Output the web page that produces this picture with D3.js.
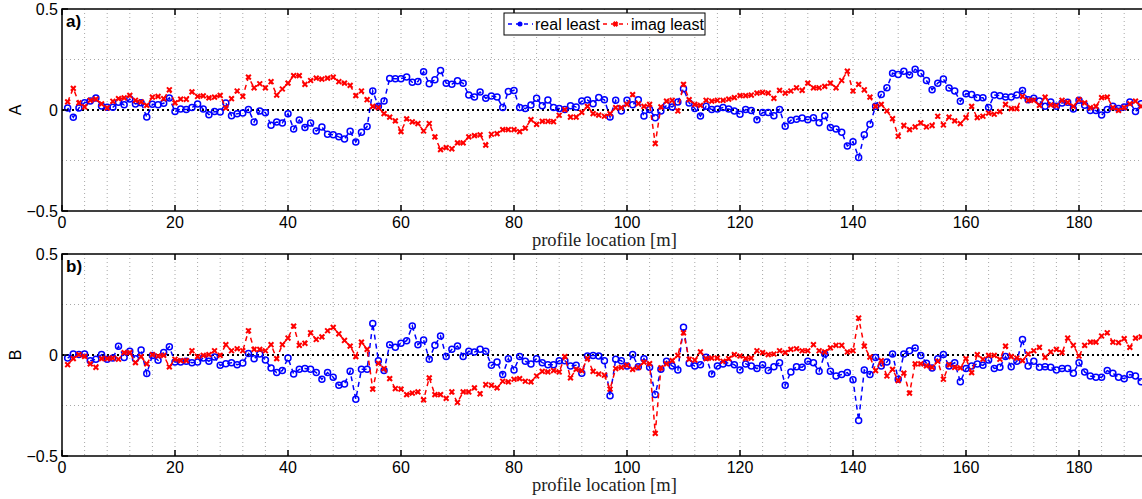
<!doctype html>
<html>
<head>
<style>
  body { margin: 0; overflow: hidden; background: #fff; }
  text { font-family: "Liberation Sans", Arial, sans-serif; }
</style>
</head>
<body>
<script src="https://cdn.jsdelivr.net/npm/d3@7"></script>
<script>
// sample positions along the profile [m]
const positions = d3.range(1, 192);

const realA = [
  0.01, -0.036, 0.01, 0.036, 0.044, 0.06, 0.02, 0.013, 0.013, 0.038,
  0.026, 0.054, 0.03, 0.036, -0.035, 0.028, 0.026, 0.033, 0.06, -0.008,
  0.005, 0.002, 0.012, 0.03, 0.005, -0.023, -0.008, -0.01, 0.035, -0.028,
  -0.018, -0.015, 0.003, -0.06, -0.005, -0.013, -0.075, -0.06, -0.064, -0.018,
  -0.094, -0.05, -0.087, -0.064, -0.104, -0.084, -0.12, -0.122, -0.133, -0.143,
  -0.105, -0.158, -0.11, -0.082, 0.094, 0.018, 0.044, 0.156, 0.155, 0.155,
  0.163, 0.137, 0.141, 0.189, 0.13, 0.15, 0.196, 0.133, 0.128, 0.145,
  0.132, 0.074, 0.064, 0.089, 0.058, 0.069, 0.064, 0.012, 0.092, 0.097,
  0.012, 0.007, 0.025, 0.058, 0.021, 0.049, 0.012, 0.007, 0.002, 0.021,
  0.015, 0.044, 0.049, 0.031, 0.062, 0.051, -0.035, 0.048, -0.005, 0.048,
  0.026, 0.051, -0.03, 0.002, -0.038, -0.005, 0.023, 0.015, 0.039, 0.105,
  0.035, 0.007, -0.03, 0.018, 0.002, 0.005, 0.012, 0.005, -0.005, -0.021,
  0.002, -0.002, -0.048, -0.012, -0.012, -0.028, 0.003, -0.081, -0.051, -0.046,
  -0.04, -0.048, -0.038, -0.063, -0.028, -0.087, -0.094, -0.11, -0.178, -0.157,
  -0.235, -0.123, -0.071, 0.018, 0.077, 0.11, 0.182, 0.176, 0.192, 0.173,
  0.202, 0.182, 0.146, 0.1, 0.133, 0.153, 0.109, 0.094, 0.043, 0.081,
  0.077, 0.061, 0.061, 0.012, 0.074, 0.071, 0.064, 0.064, 0.074, 0.097,
  0.051, 0.058, 0.044, 0.018, 0.039, 0.018, 0.035, 0.038, 0.005, 0.048,
  0.023, -0.002, -0.002, -0.025, 0.002, 0.018, 0.008, 0.015, 0.039, -0.008, 0.031
];

const imagA = [
  0.04, 0.107, 0.035, 0.015, 0.048, 0.054, 0.03, 0.01, 0.043, 0.056,
  0.06, 0.072, 0.048, 0.04, 0.023, 0.064, 0.067, 0.056, 0.1, 0.035,
  0.054, 0.053, 0.09, 0.067, 0.07, 0.06, 0.064, 0.072, 0.01, 0.056,
  0.094, 0.067, 0.163, 0.11, 0.13, 0.11, 0.14, 0.074, 0.104, 0.133,
  0.17, 0.17, 0.127, 0.146, 0.158, 0.153, 0.158, 0.163, 0.14, 0.133,
  0.122, 0.071, 0.094, 0.051, 0.018, 0.012, -0.018, -0.035, -0.054, -0.107,
  -0.044, -0.059, -0.067, -0.104, -0.067, -0.133, -0.196, -0.186, -0.192, -0.163,
  -0.163, -0.133, -0.127, -0.123, -0.174, -0.12, -0.117, -0.097, -0.097, -0.097,
  -0.107, -0.09, -0.048, -0.071, -0.056, -0.056, -0.058, -0.026, 0.002, -0.035,
  -0.035, -0.012, 0.018, -0.018, -0.025, -0.031, -0.018, 0.012, 0.012, 0.028,
  0.076, 0.031, 0.018, 0.028, -0.166, 0.015, 0.044, 0.048, -0.005, 0.127,
  0.051, 0.028, 0.023, 0.048, 0.044, 0.048, 0.048, 0.054, 0.061, 0.071,
  0.071, 0.074, 0.084, 0.087, 0.084, 0.058, 0.097, 0.084, 0.094, 0.11,
  0.097, 0.133, 0.11, 0.11, 0.117, 0.133, 0.11, 0.146, 0.192, 0.094,
  0.127, 0.1, 0.064, 0.018, 0.028, -0.005, -0.043, -0.13, -0.076, -0.097,
  -0.084, -0.064, -0.084, -0.077, -0.031, -0.074, -0.035, -0.054, -0.067, -0.038,
  0.018, -0.038, -0.031, -0.015, -0.021, -0.008, 0.028, 0.007, 0.007, 0.068,
  0.048, 0.048, 0.023, 0.064, 0.025, 0.021, 0.048, 0.038, 0.018, 0.051,
  0.035, 0.012, 0.018, 0.061, 0.064, 0.012, -0.002, 0.012, 0.031, 0.044, 0.018
];

const realB = [
  -0.015, 0.005, 0.003, 0.005, -0.028, -0.021, 0.002, -0.021, -0.015, 0.043,
  -0.012, 0.018, -0.018, 0.025, -0.092, -0.002, -0.026, 0.012, 0.041, -0.035,
  -0.035, -0.031, -0.038, -0.035, -0.015, -0.031, -0.01, -0.051, -0.043, -0.038,
  -0.048, -0.04, 0.008, -0.018, 0.005, -0.025, -0.064, -0.087, -0.077, -0.015,
  -0.094, -0.071, -0.067, -0.071, -0.087, -0.12, -0.087, -0.11, -0.15, -0.143,
  -0.081, -0.219, -0.071, -0.071, 0.156, -0.028, -0.077, 0.051, 0.038, 0.058,
  0.071, 0.143, 0.051, 0.074, -0.021, 0.048, 0.094, -0.008, 0.028, 0.044,
  -0.008, 0.018, 0.015, 0.028, 0.018, -0.051, -0.035, -0.097, -0.018, -0.074,
  -0.008, -0.031, -0.044, -0.018, -0.038, -0.048, -0.048, -0.028, -0.028, -0.054,
  -0.051, -0.09, -0.005, -0.002, -0.005, -0.028, -0.202, -0.021, -0.028, -0.054,
  0.002, -0.058, -0.018, -0.061, -0.196, -0.071, -0.031, -0.054, -0.074, 0.137,
  -0.041, -0.054, -0.048, -0.011, -0.094, -0.054, -0.044, -0.038, -0.048, -0.074,
  -0.044, -0.054, -0.067, -0.048, -0.077, -0.058, -0.038, -0.15, -0.084, -0.058,
  -0.061, -0.031, -0.038, -0.081, 0.005, -0.081, -0.104, -0.097, -0.087, -0.123,
  -0.324, -0.074, -0.097, -0.012, -0.054, -0.035, 0.005, -0.12, 0.005, 0.021,
  0.035, -0.002, -0.041, -0.064, -0.018, 0.002, -0.054, -0.038, -0.133, -0.067,
  -0.054, -0.044, -0.051, -0.025, -0.067, -0.061, -0.008, -0.058, -0.031, 0.077,
  -0.054, -0.031, -0.061, -0.058, -0.061, -0.074, -0.067, -0.067, -0.09, -0.038,
  -0.084, -0.104, -0.11, -0.11, -0.077, -0.09, -0.11, -0.117, -0.097, -0.104, -0.133
];

const imagB = [
  -0.048, -0.018, 0.002, -0.007, -0.044, -0.061, -0.018, -0.018, -0.015, -0.021,
  0.012, 0.012, -0.038, -0.008, -0.044, 0.002, -0.005, -0.002, -0.059, -0.021,
  -0.028, -0.028, 0.021, -0.008, -0.002, 0.002, 0.021, -0.002, 0.051, 0.021,
  0.031, 0.021, 0.12, 0.028, 0.028, 0.021, 0.051, -0.018, 0.051, 0.084,
  0.143, 0.048, 0.058, 0.11, 0.077, 0.09, 0.12, 0.137, 0.105, 0.072,
  0.044, -0.008, 0.064, 0.028, -0.169, -0.041, -0.067, -0.117, -0.166, -0.169,
  -0.196, -0.189, -0.183, -0.222, -0.113, -0.196, -0.196, -0.215, -0.183, -0.235,
  -0.183, -0.183, -0.163, -0.192, -0.146, -0.15, -0.163, -0.13, -0.133, -0.12,
  -0.117, -0.13, -0.133, -0.104, -0.081, -0.084, -0.077, -0.084, -0.008, -0.113,
  -0.071, -0.077, -0.018, -0.081, -0.094, -0.1, -0.169, -0.067, -0.061, -0.051,
  -0.071, -0.061, -0.035, -0.043, -0.388, -0.064, -0.044, -0.028, -0.002, 0.11,
  -0.021, -0.025, 0.015, -0.018, -0.015, -0.015, -0.031, -0.018, 0.002, -0.005,
  -0.018, -0.015, 0.021, 0.012, 0.002, 0.005, 0.021, 0.012, 0.028, 0.031,
  0.021, 0.021, 0.051, 0.021, 0.015, 0.035, 0.048, 0.048, 0.015, 0.021,
  0.183, 0.044, -0.01, -0.077, -0.028, -0.104, -0.071, -0.127, -0.09, -0.189,
  -0.044, -0.044, -0.054, -0.061, -0.031, -0.12, -0.048, -0.061, -0.064, -0.018,
  -0.087, 0.002, -0.021, -0.002, -0.002, -0.021, 0.044, -0.008, -0.015, -0.028,
  0.005, 0.021, 0.038, -0.012, 0.015, 0.028, 0.012, 0.084, 0.048, -0.005,
  0.048, 0.064, 0.064, 0.094, 0.11, 0.064, 0.061, 0.081, 0.038, 0.084, 0.09
];

const xTicks = [0, 20, 40, 60, 80, 100, 120, 140, 160, 180];
const yTicks = [-0.5, 0, 0.5];
const yTickLabels = ['\u22120.5', '0', '0.5'];
const seriesNames = ['real least', 'imag least'];

const width = 1142;
const height = 499;
const panelH = 202;

const svg = d3.select('body')
  .append('svg')
  .attr('width', width)
  .attr('height', height);

const x = d3.scaleLinear().domain([0, 192]).range([62, 62 + 5.65 * 192]);
const xMid = (x.range()[0] + x.range()[1]) / 2;

const panels = [
  { top: 9, tag: 'a)', ylab: 'A', real: realA, imag: imagA },
  { top: 254, tag: 'b)', ylab: 'B', real: realB, imag: imagB }
];

const xMark = 'M-2.4,-2.4L2.4,2.4M-2.4,2.4L2.4,-2.4';

panels.forEach((p) => {
  const y = d3.scaleLinear().domain([-0.5, 0.5]).range([p.top + panelH, p.top]);
  const g = svg.append('g');

  // dotted grid
  g.selectAll('.vgrid')
    .data(d3.range(4, 192, 4))
    .join('line')
    .attr('x1', (d) => x(d)).attr('x2', (d) => x(d))
    .attr('y1', y(0.5)).attr('y2', y(-0.5))
    .attr('stroke', '#a8a8a8')
    .attr('stroke-width', 1)
    .attr('stroke-dasharray', '1,3');

  g.selectAll('.hgrid')
    .data([-0.25, 0.25])
    .join('line')
    .attr('x1', x(0)).attr('x2', width)
    .attr('y1', (d) => y(d)).attr('y2', (d) => y(d))
    .attr('stroke', '#a8a8a8')
    .attr('stroke-width', 1)
    .attr('stroke-dasharray', '1,3');

  // zero reference line
  g.append('line')
    .attr('x1', x(0)).attr('x2', width)
    .attr('y1', y(0)).attr('y2', y(0))
    .attr('stroke', '#000')
    .attr('stroke-width', 2)
    .attr('stroke-dasharray', '2,3');

  const line = d3.line()
    .x((d, i) => x(positions[i]))
    .y((d) => y(d));

  // real part: blue dashed with circles
  g.append('path')
    .datum(p.real)
    .attr('d', line)
    .attr('fill', 'none')
    .attr('stroke', '#0000ff')
    .attr('stroke-width', 1.5)
    .attr('stroke-dasharray', '5,4');

  g.selectAll('.circ')
    .data(p.real)
    .join('circle')
    .attr('cx', (d, i) => x(positions[i]))
    .attr('cy', (d) => y(d))
    .attr('r', 3)
    .attr('fill', 'none')
    .attr('stroke', '#0000ff')
    .attr('stroke-width', 1.5);

  // imaginary part: red dashed with x
  g.append('path')
    .datum(p.imag)
    .attr('d', line)
    .attr('fill', 'none')
    .attr('stroke', '#ff0000')
    .attr('stroke-width', 1.5)
    .attr('stroke-dasharray', '5,4');

  g.selectAll('.xm')
    .data(p.imag)
    .join('path')
    .attr('transform', (d, i) => `translate(${x(positions[i])},${y(d)})`)
    .attr('d', xMark)
    .attr('fill', 'none')
    .attr('stroke', '#ff0000')
    .attr('stroke-width', 2);

  // box
  g.append('rect')
    .attr('x', x(0)).attr('y', p.top)
    .attr('width', x(192) - x(0)).attr('height', panelH)
    .attr('fill', 'none')
    .attr('stroke', '#000')
    .attr('stroke-width', 1.5);

  // x ticks (inward, top and bottom) + labels
  xTicks.forEach((t) => {
    g.append('line')
      .attr('x1', x(t)).attr('x2', x(t))
      .attr('y1', y(-0.5)).attr('y2', y(-0.5) - 6)
      .attr('stroke', '#000').attr('stroke-width', 1.5);
    g.append('line')
      .attr('x1', x(t)).attr('x2', x(t))
      .attr('y1', y(0.5)).attr('y2', y(0.5) + 6)
      .attr('stroke', '#000').attr('stroke-width', 1.5);
    g.append('text')
      .attr('x', x(t))
      .attr('y', y(-0.5) + 17)
      .attr('text-anchor', 'middle')
      .attr('font-size', 16)
      .text(t);
  });

  yTicks.forEach((t, i) => {
    g.append('line')
      .attr('x1', x(0)).attr('x2', x(0) + 6)
      .attr('y1', y(t)).attr('y2', y(t))
      .attr('stroke', '#000').attr('stroke-width', 1.5);
    g.append('text')
      .attr('x', x(0) - 4)
      .attr('y', y(t) + 6)
      .attr('text-anchor', 'end')
      .attr('font-size', 16)
      .text(yTickLabels[i]);
  });

  g.append('text')
    .attr('transform', `translate(21,${y(0)}) rotate(-90)`)
    .attr('text-anchor', 'middle')
    .attr('font-size', 16)
    .text(p.ylab);

  g.append('text')
    .attr('x', xMid)
    .attr('y', y(-0.5) + 35)
    .attr('text-anchor', 'middle')
    .attr('fill', '#222')
    .style('font-family', '"Liberation Serif", "DejaVu Serif", serif')
    .attr('font-size', 18.5)
    .text('profile location [m]');

  g.append('text')
    .attr('x', x(0) + 4)
    .attr('y', p.top + 18)
    .attr('font-size', 17)
    .attr('font-weight', 'bold')
    .text(p.tag);
});

// legend
const lg = svg.append('g');
lg.append('rect')
  .attr('x', 504).attr('y', 13)
  .attr('width', 201).attr('height', 22)
  .attr('fill', '#fff')
  .attr('stroke', '#000')
  .attr('stroke-width', 1);

const legendItems = [
  { name: seriesNames[0], color: '#0000ff', x0: 508, tx: 535, mark: 'circle' },
  { name: seriesNames[1], color: '#ff0000', x0: 603, tx: 631, mark: 'x' }
];
legendItems.forEach((it) => {
  lg.append('line')
    .attr('x1', it.x0).attr('x2', it.x0 + 25)
    .attr('y1', 24).attr('y2', 24)
    .attr('stroke', it.color)
    .attr('stroke-width', 1.5)
    .attr('stroke-dasharray', '4,4');
  if (it.mark === 'circle') {
    lg.append('circle')
      .attr('cx', it.x0 + 12).attr('cy', 24).attr('r', 2.5)
      .attr('fill', it.color);
  } else {
    lg.append('path')
      .attr('transform', `translate(${it.x0 + 12.5},24)`)
      .attr('d', 'M-2,-2L2,2M-2,2L2,-2')
      .attr('stroke', it.color)
      .attr('stroke-width', 2.5);
  }
  lg.append('text')
    .attr('x', it.tx).attr('y', 30)
    .attr('font-size', 16)
    .text(it.name);
});
</script>
</body>
</html>
